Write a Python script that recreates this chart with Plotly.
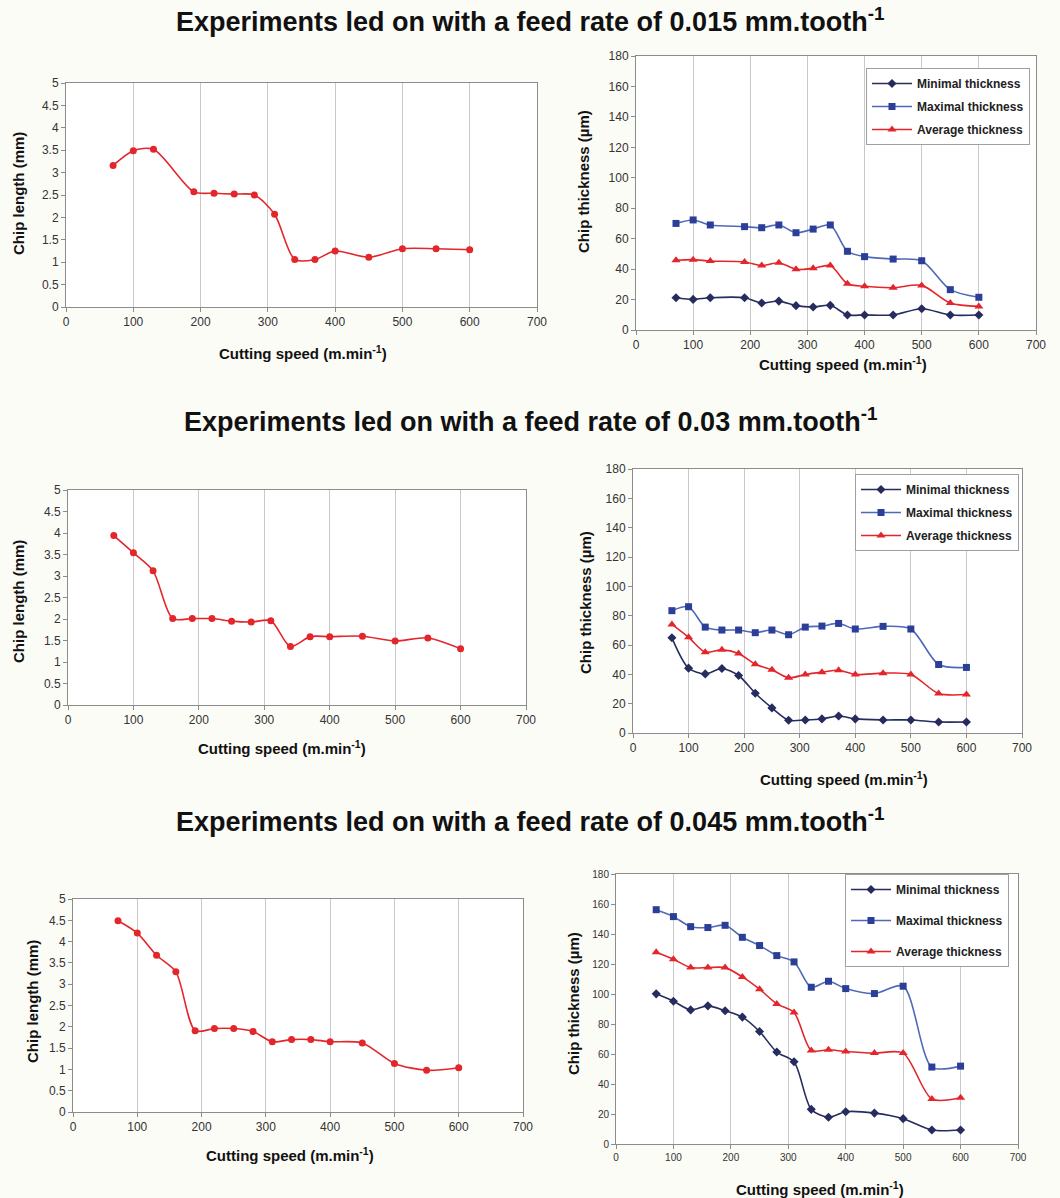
import plotly.graph_objects as go

# cutting speeds (m/min)
speed_a = [70, 100, 130, 190, 220, 250, 280, 310, 340, 370, 400, 450, 500, 550, 600]
speed_b = [70, 100, 130, 160, 190, 220, 250, 280, 310, 340, 370, 400, 450, 500, 550, 600]

# feed 0.015 mm/tooth
length_015 = [3.16, 3.49, 3.52, 2.57, 2.54, 2.52, 2.5, 2.07, 1.06, 1.06, 1.25, 1.11, 1.3, 1.3, 1.28]
min_015 = [21.2, 20.1, 21.2, 21.2, 17.7, 19.0, 16.0, 15.1, 16.2, 9.9, 9.9, 9.9, 14.0, 9.9, 9.9]
max_015 = [70.0, 72.3, 69.0, 67.9, 67.2, 69.0, 63.9, 66.3, 69.0, 51.7, 48.2, 46.6, 45.5, 26.5, 21.5]
avg_015 = [45.8, 46.2, 45.3, 44.7, 42.3, 44.2, 39.9, 40.5, 42.3, 30.4, 28.7, 27.8, 29.3, 17.7, 15.5]

# feed 0.03 mm/tooth
length_03 = [3.94, 3.54, 3.12, 2.01, 2.01, 2.01, 1.95, 1.93, 1.96, 1.36, 1.59, 1.59, 1.6, 1.49, 1.56, 1.31]
min_03 = [64.9, 44.2, 40.3, 44.0, 39.2, 27.1, 17.1, 8.7, 8.9, 9.6, 11.6, 9.6, 8.9, 8.9, 7.5, 7.5]
max_03 = [83.4, 86.1, 72.2, 70.2, 70.2, 68.4, 70.2, 67.0, 72.2, 72.9, 74.7, 70.9, 72.7, 70.9, 46.7, 44.7]
avg_03 = [74.0, 65.2, 55.1, 56.7, 54.2, 46.9, 43.1, 37.6, 39.9, 41.5, 42.8, 39.9, 40.8, 39.9, 26.9, 26.2]

# feed 0.045 mm/tooth
length_045 = [4.49, 4.2, 3.68, 3.29, 1.91, 1.96, 1.96, 1.89, 1.65, 1.7, 1.7, 1.65, 1.62, 1.14, 0.98, 1.04]
min_045 = [100.1, 95.2, 89.4, 92.1, 88.8, 84.6, 75.0, 61.3, 54.8, 23.1, 17.8, 21.5, 20.6, 16.9, 9.3, 9.3]
max_045 = [156.2, 151.6, 144.9, 144.3, 145.8, 137.8, 132.3, 125.6, 121.4, 104.5, 108.5, 103.6, 100.3, 105.2, 51.3, 51.9]
avg_045 = [127.8, 123.2, 117.6, 117.6, 117.6, 111.4, 103.2, 93.4, 87.7, 62.4, 62.8, 61.7, 60.6, 60.6, 30.0, 30.8]

section_titles = [
    "Experiments led on with a feed rate of 0.015 mm.tooth<sup>-1</sup>",
    "Experiments led on with a feed rate of 0.03 mm.tooth<sup>-1</sup>",
    "Experiments led on with a feed rate of 0.045 mm.tooth<sup>-1</sup>",
]
series_names = ["Minimal thickness", "Maximal thickness", "Average thickness"]

W, H = 1060, 1198
FONT = "Liberation Sans, Arial, sans-serif"
RED = "#e3262b"
NAVY = "#262c5e"
BLUE_LINE = "#4f68b8"
BLUE_MARK = "#2b3f98"


def px_x(v):
    return v / W


def px_y(v):
    return 1 - v / H


# panel boxes in pixels: (left, right, top, bottom)
boxes = [
    (66, 537, 83, 307),
    (636, 1036, 56, 330),
    (68, 526, 490, 705),
    (633, 1022, 469, 733),
    (73, 523, 899, 1112),
    (616, 1018, 874, 1144),
]
tick_sizes = [12, 12, 12, 12, 12, 10]

fig = go.Figure()

length_sets = [(speed_a, length_015), (speed_b, length_03), (speed_b, length_045)]
thick_sets = [
    (speed_a, min_015, max_015, avg_015),
    (speed_b, min_03, max_03, avg_03),
    (speed_b, min_045, max_045, avg_045),
]

for i in range(3):
    xa = 2 * i + 1
    xs, ys = length_sets[i]
    fig.add_trace(go.Scatter(
        x=xs, y=ys, mode="lines+markers",
        line=dict(color=RED, width=1.6, shape="spline", smoothing=0.8),
        marker=dict(color=RED, size=7, symbol="circle"),
        xaxis="x%d" % xa, yaxis="y%d" % xa, showlegend=False,
    ))
    xb = 2 * i + 2
    xs, mn, mx, av = thick_sets[i]
    leg = "legend" if i == 0 else "legend%d" % (i + 1)
    styles = [
        (mn, NAVY, NAVY, "diamond", 7),
        (mx, BLUE_LINE, BLUE_MARK, "square", 7),
        (av, RED, RED, "triangle-up", 8),
    ]
    for k, (vals, lc, mc, sym, ms) in enumerate(styles):
        fig.add_trace(go.Scatter(
            x=xs, y=vals, mode="lines+markers", name=series_names[k],
            line=dict(color=lc, width=1.6, shape="spline", smoothing=0.8),
            marker=dict(color=mc, size=ms, symbol=sym),
            xaxis="x%d" % xb, yaxis="y%d" % xb, legend=leg,
            legendgroup="g%d_%d" % (i, k),
        ))

layout = dict(
    width=W, height=H,
    margin=dict(l=0, r=0, t=0, b=0, autoexpand=False),
    paper_bgcolor="#fcfcf7",
    plot_bgcolor="white",
    font=dict(family=FONT, color="#222"),
    showlegend=True,
)

for n, (l, r, t, b) in enumerate(boxes, start=1):
    is_len = n % 2 == 1
    suffix = "" if n == 1 else str(n)
    layout["xaxis" + suffix] = dict(
        domain=[px_x(l), px_x(r)], anchor="y%d" % n, range=[0, 700], dtick=100,
        showgrid=True, gridcolor="#c9c9c9", gridwidth=1,
        showline=True, linecolor="#8c8c8c", linewidth=1, mirror=True,
        ticks="outside", ticklen=4, tickcolor="#8c8c8c",
        tickfont=dict(size=tick_sizes[n - 1], color="#333"),
        zeroline=False, fixedrange=True, automargin=False,
    )
    layout["yaxis" + suffix] = dict(
        domain=[px_y(b), px_y(t)], anchor="x%d" % n,
        range=[0, 5] if is_len else [0, 180], dtick=0.5 if is_len else 20,
        showgrid=False,
        showline=True, linecolor="#8c8c8c", linewidth=1, mirror=True,
        ticks="outside", ticklen=4, tickcolor="#8c8c8c",
        tickfont=dict(size=tick_sizes[n - 1], color="#333"),
        zeroline=False, fixedrange=True, automargin=False,
    )

legend_boxes = [(866, 68, 4), (855, 474, 4), (845, 874, 12)]
for i, (lx, ly, gap) in enumerate(legend_boxes):
    key = "legend" if i == 0 else "legend%d" % (i + 1)
    layout[key] = dict(
        x=px_x(lx), y=px_y(ly), xanchor="left", yanchor="top",
        bgcolor="white", bordercolor="#a0a0a0", borderwidth=1,
        font=dict(size=12, family=FONT, color="#222", weight="bold"),
        tracegroupgap=gap, itemwidth=40,
    )

fig.update_layout(**layout)

title_font = dict(family=FONT, size=27, color="#111", weight="bold")
axis_font = dict(family=FONT, size=15, color="#111", weight="bold")

for title, ty in zip(section_titles, [22, 422, 822]):
    fig.add_annotation(text=title, x=px_x(530), y=px_y(ty + 17), xref="paper", yref="paper",
                       showarrow=False, font=title_font, xanchor="center", yanchor="bottom")

x_title_pos = [(303, 353), (843, 363), (282, 748), (844, 778), (290, 1154), (820, 1188)]
y_title_pos = [(18, 194), (583, 182), (18, 602), (585, 603), (32, 1002), (573, 1004)]
for n in range(6):
    cx, cy = x_title_pos[n]
    fig.add_annotation(text="Cutting speed (m.min<sup>-1</sup>)", x=px_x(cx), y=px_y(cy),
                       xref="paper", yref="paper", showarrow=False, font=axis_font,
                       xanchor="center", yanchor="middle")
    yx, yy = y_title_pos[n]
    label = "Chip length (mm)" if n % 2 == 0 else "Chip thickness (µm)"
    fig.add_annotation(text=label, x=px_x(yx), y=px_y(yy), xref="paper", yref="paper",
                       showarrow=False, font=axis_font, textangle=-90,
                       xanchor="center", yanchor="middle")

# drop the default 8px body margin so the figure sits flush in the window
fig.write_html("out.html", config={"displayModeBar": False},
               post_script="document.body.style.margin='0';document.body.style.overflow='hidden';")
